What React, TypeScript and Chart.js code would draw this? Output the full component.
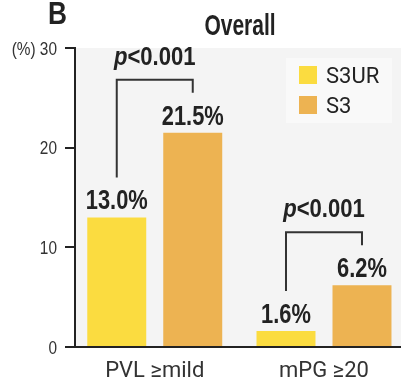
import React, { useEffect, useRef } from "react";
import { Chart, registerables } from "chart.js";

Chart.register(...registerables);

const categories = ["PVL ≥mild", "mPG ≥20"];
const seriesNames = ["S3UR", "S3"];
const s3urValues = [13.0, 1.6];
const s3Values = [21.5, 6.2];
const valueLabels = [["13.0%", "1.6%"], ["21.5%", "6.2%"]];
const pValueLabels = ["<0.001", "<0.001"];
const yTickValues = [0, 10, 20, 30];
const seriesColors = ["#FBDC40", "#EDB352"];
const chartTitle = "Overall";
const panelLetter = "B";
const yUnit = "(%)";

const ARIAL = '"Liberation Sans", Arial, sans-serif';
const SANS = 'Roboto, "Liberation Sans", sans-serif';
const INK = "#222222";

function narrowText(
  ctx: CanvasRenderingContext2D,
  text: string,
  x: number,
  y: number,
  font: string,
  sx: number,
  align: "left" | "center" | "right"
) {
  ctx.save();
  ctx.font = font;
  const w = ctx.measureText(text).width * sx;
  let x0 = x;
  if (align === "center") x0 = x - w / 2;
  else if (align === "right") x0 = x - w;
  ctx.translate(x0, y);
  ctx.scale(sx, 1);
  ctx.textAlign = "left";
  ctx.textBaseline = "alphabetic";
  ctx.fillText(text, 0, 0);
  ctx.restore();
  return w;
}

function measureNarrow(ctx: CanvasRenderingContext2D, text: string, font: string, sx: number) {
  ctx.save();
  ctx.font = font;
  const w = ctx.measureText(text).width * sx;
  ctx.restore();
  return w;
}

const decorPlugin = {
  id: "decor",
  beforeDraw(chart: any) {
    const { ctx, chartArea: a } = chart;
    ctx.save();
    ctx.fillStyle = "#ffffff";
    ctx.fillRect(0, 0, chart.width, chart.height);
    ctx.fillStyle = "#f4f4f4";
    ctx.fillRect(a.left, a.top, a.right - a.left, a.bottom - a.top);
    ctx.restore();
  },
  afterDatasetsDraw(chart: any) {
    const { ctx } = chart;
    ctx.save();
    const m0 = chart.getDatasetMeta(0).data;
    const m1 = chart.getDatasetMeta(1).data;
    ctx.fillStyle = INK;
    const valFont = `bold 27px ${ARIAL}`;
    [m0, m1].forEach((els: any[], di: number) => {
      els.forEach((el: any, i: number) => {
        narrowText(ctx, valueLabels[di][i], el.x, el.y - 8, valFont, 0.81, "center");
      });
    });
    for (let i = 0; i < categories.length; i++) {
      const a = m0[i];
      const b = m1[i];
      const lb = a.y - 40;
      const rb = b.y - 40;
      const top = Math.min(lb, rb) - 13;
      ctx.strokeStyle = "#333333";
      ctx.lineWidth = 2;
      ctx.beginPath();
      ctx.moveTo(a.x, lb);
      ctx.lineTo(a.x, top);
      ctx.lineTo(b.x, top);
      ctx.lineTo(b.x, rb);
      ctx.stroke();
      const cx = (a.x + b.x) / 2;
      const pf = `italic bold 26px ${ARIAL}`;
      const rf = `bold 26px ${ARIAL}`;
      const sx = 0.85;
      const wp = measureNarrow(ctx, "p", pf, sx);
      const wr = measureNarrow(ctx, pValueLabels[i], rf, sx);
      const x0 = cx - (wp + wr) / 2;
      ctx.fillStyle = INK;
      narrowText(ctx, "p", x0, top - 15, pf, sx, "left");
      narrowText(ctx, pValueLabels[i], x0 + wp, top - 15, rf, sx, "left");
    }
    ctx.restore();
  },
  afterDraw(chart: any) {
    const { ctx } = chart;
    const ys = chart.scales.y;
    ctx.save();
    ctx.fillStyle = "#333333";
    yTickValues.forEach((v) => {
      const t = v === 30 ? `${yUnit} ${v}` : `${v}`;
      narrowText(ctx, t, 57, ys.getPixelForValue(v) + 6.5, `17.5px ${ARIAL}`, 0.88, "right");
    });
    ctx.fillStyle = INK;
    narrowText(ctx, panelLetter, 48, 24, `bold 32px ${ARIAL}`, 0.82, "left");
    narrowText(ctx, chartTitle, 240, 35, `bold 30px ${ARIAL}`, 0.7, "center");
    // legend
    ctx.fillStyle = "#f9f9f9";
    ctx.fillRect(286, 58, 106, 65);
    ctx.textAlign = "left";
    ctx.textBaseline = "alphabetic";
    ctx.font = `22px ${SANS}`;
    chart.data.datasets.forEach((ds: any, i: number) => {
      const y = 66 + i * 30;
      ctx.fillStyle = ds.backgroundColor;
      ctx.fillRect(299, y, 18, 18);
      ctx.fillStyle = INK;
      ctx.fillText(ds.label, 326, y + 17);
    });
    ctx.restore();
  },
};

export default function App() {
  const ref = useRef<HTMLCanvasElement | null>(null);
  useEffect(() => {
    if (!ref.current) return;
    const chart = new Chart(ref.current, {
      type: "bar",
      data: {
        datasets: [
          {
            label: seriesNames[0],
            data: s3urValues.map((v, i) => ({ x: i, y: v })),
            backgroundColor: seriesColors[0],
          },
          {
            label: seriesNames[1],
            data: s3Values.map((v, i) => ({ x: i, y: v })),
            backgroundColor: seriesColors[1],
          },
        ],
      },
      options: {
        responsive: false,
        animation: false,
        devicePixelRatio: 1,
        layout: { padding: { top: 48, left: 0, right: 0, bottom: 0 } },
        datasets: {
          bar: { categoryPercentage: 0.898, barPercentage: 0.776 },
        },
        plugins: {
          legend: { display: false },
          title: { display: false },
          tooltip: { enabled: false },
        },
        scales: {
          x: {
            type: "linear",
            offset: false,
            bounds: "data",
            min: -0.4712,
            max: 1.455,
            z: 1,
            afterFit: (s: any) => {
              s.height = 37;
            },
            afterBuildTicks: (s: any) => {
              s.ticks = categories.map((_, i) => ({ value: i }));
            },
            grid: { display: false, drawTicks: false, offset: false },
            border: { display: true, color: INK, width: 2 },
            ticks: {
              padding: 11,
              color: "#333333",
              font: { family: SANS, size: 22 },
              maxRotation: 0,
              autoSkip: false,
              callback: (v: any) => categories[v as number] ?? "",
            },
          },
          y: {
            min: 0,
            max: 30,
            afterFit: (s: any) => {
              s.width = 75;
            },
            afterBuildTicks: (s: any) => {
              s.ticks = yTickValues.map((v) => ({ value: v }));
            },
            grid: {
              drawOnChartArea: false,
              drawTicks: true,
              tickLength: 10,
              color: INK,
              lineWidth: 2,
            },
            border: { display: true, color: INK, width: 2 },
            ticks: { display: false },
          },
        },
      },
      plugins: [decorPlugin],
    });
    return () => chart.destroy();
  }, []);
  return (
    <div style={{ position: "fixed", left: 0, top: 0, width: 401, height: 384 }}>
      <canvas ref={ref} width={401} height={384} style={{ display: "block" }} />
    </div>
  );
}
